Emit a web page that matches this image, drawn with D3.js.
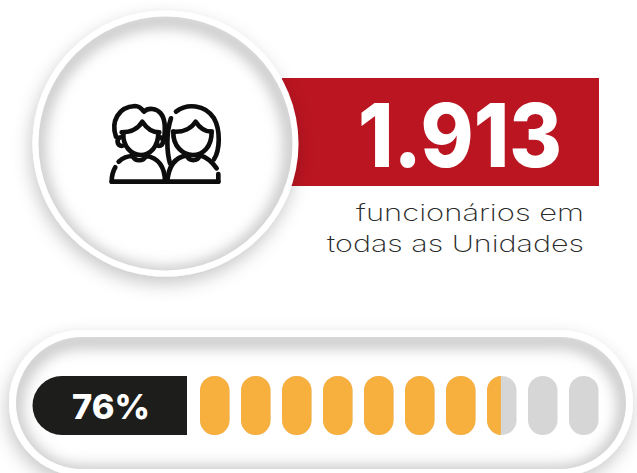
<!DOCTYPE html>
<html><head><meta charset="utf-8">
<script src="https://cdnjs.cloudflare.com/ajax/libs/d3/7.8.5/d3.min.js"></script>
<style>html,body{margin:0;padding:0;background:#fff;overflow:hidden}svg{display:block}text{font-family:Inter,sans-serif}</style>
</head><body>
<script>
const headline = "1.913";
const captionLines = ["funcionários em", "todas as Unidades"];
const percentLabel = "76%";
const pillIndex = [0,1,2,3,4,5,6,7,8,9];
const filledPills = 7.47;

const W=637,H=473;
const svg=d3.select("body").append("svg").attr("width",W).attr("height",H);
const defs=svg.append("defs");
const outer=defs.append("filter").attr("id","outer").attr("x","-20%").attr("y","-20%").attr("width","140%").attr("height","140%");
outer.append("feDropShadow").attr("dx",-2).attr("dy",7).attr("stdDeviation",9).attr("flood-color","#000").attr("flood-opacity",.22);
defs.append("filter").attr("id","blur").attr("x","-20%").attr("y","-20%").attr("width","140%").attr("height","140%")
  .append("feGaussianBlur").attr("stdDeviation",7);

function insetShadow(g,id,shape){
  const cp=defs.append("clipPath").attr("id",id);
  shape(cp);
  const s=g.append("g").attr("clip-path",`url(#${id})`).append("g").attr("filter","url(#blur)");
  shape(s).attr("fill","none").attr("stroke","#c6c6c6").attr("stroke-width",15).attr("transform","translate(-1,4)");
}

// red band
svg.append("rect").attr("x",282).attr("y",78).attr("width",317).attr("height",108).attr("fill","#BA1521");

// circle
const cx=165.5,cy=143.5;
svg.append("circle").attr("cx",cx).attr("cy",cy).attr("r",133).attr("fill","#fff").attr("filter","url(#outer)");
insetShadow(svg,"cclip",g=>g.append("circle").attr("cx",cx).attr("cy",cy).attr("r",127));

// icon
const icon=svg.append("g").attr("transform","translate(90,80) scale(0.3333)")
  .attr("fill","none").attr("stroke","#0d0d0d").attr("stroke-width",14).attr("stroke-linecap","round").attr("stroke-linejoin","round");
[
 "M65,305H385",
 "M78,170C62,125 85,80 135,78C150,78 158,90 162,95C175,82 200,85 212,100C228,118 226,150 222,178",
 "M95,157C125,157 145,145 157,125C170,145 190,157 208,157",
 "M100,160C98,200 125,225 152,225C180,225 205,200 205,160",
 "M92,172C80,172 78,198 96,198",
 "M210,172C222,172 224,198 206,198",
 "M86,245C98,234 112,228 128,228C135,245 160,245 168,228C205,232 225,262 225,305",
 "M76,262C68,275 65,290 65,305",
 "M258,95C290,70 345,72 372,115C392,150 390,210 372,238",
 "M243,115C228,160 230,215 240,250",
 "M250,155C280,157 305,145 317,125C330,145 345,155 365,155",
 "M250,155C248,200 280,225 308,225C340,225 365,200 365,155",
 "M232,305C235,260 255,232 290,226C298,245 322,245 330,226C350,232 368,248 380,265",
 "M385,282V305"
].forEach(d=>icon.append("path").attr("d",d));

// headline + caption
svg.append("text").attr("x",460).attr("y",167).attr("text-anchor","middle").attr("fill","#fff")
  .attr("font-size",88).attr("font-weight",800).attr("textLength",204).attr("lengthAdjust","spacingAndGlyphs").text(headline);
const capBase=[221,252], capLen=[228,257];
svg.selectAll(".cap").data(captionLines).join("text").attr("class","cap")
  .attr("x",(d,i)=>584-capLen[i]).attr("y",(d,i)=>capBase[i]).attr("fill","#2b2b2b")
  .attr("font-size",23).attr("font-weight",200).attr("textLength",(d,i)=>capLen[i]).attr("lengthAdjust","spacingAndGlyphs").text(d=>d);

// pill frame
const frame=(x,y,w,h)=>g=>g.append("rect").attr("x",x).attr("y",y).attr("width",w).attr("height",h).attr("rx",h/2);
frame(9,330,624,146)(svg).attr("fill","#fff").attr("filter","url(#outer)");
insetShadow(svg,"pclip",frame(16,337,610,132));

// progress
const top0=376,hPill=59,wPill=29.5;
const x=d3.scaleLinear().domain([0,10]).range([200,610]);
svg.selectAll(".bg").data(pillIndex).join("rect").attr("class","bg")
  .attr("x",d=>x(d)).attr("y",top0).attr("width",wPill).attr("height",hPill).attr("rx",wPill/2).attr("fill","#D6D6D6");
const nFull=Math.floor(filledPills);
defs.append("clipPath").attr("id","fillclip").append("rect")
  .attr("x",0).attr("y",0).attr("height",H)
  .attr("width",x(nFull)+(filledPills-nFull)*wPill);
svg.append("g").attr("clip-path","url(#fillclip)").selectAll("rect").data(pillIndex.filter(d=>d<=nFull)).join("rect")
  .attr("x",d=>x(d)).attr("y",top0).attr("width",wPill).attr("height",hPill).attr("rx",wPill/2).attr("fill","#F7AF3D");

// black label tab
const r=29.5,L=32.5,R=187;
const tab=d3.path();tab.moveTo(R,top0);tab.lineTo(L+r,top0);tab.arc(L+r,top0+r,r,-Math.PI/2,Math.PI/2,true);tab.lineTo(R,top0+hPill);tab.closePath();
svg.append("path").attr("fill","#1D1D1B").attr("d",tab.toString());
svg.append("text").attr("x",111).attr("y",418.5).attr("text-anchor","middle").attr("fill","#fff")
  .attr("font-size",34.5).attr("font-weight",800).attr("textLength",78).attr("lengthAdjust","spacingAndGlyphs").text(percentLabel);
</script>
</body></html>
